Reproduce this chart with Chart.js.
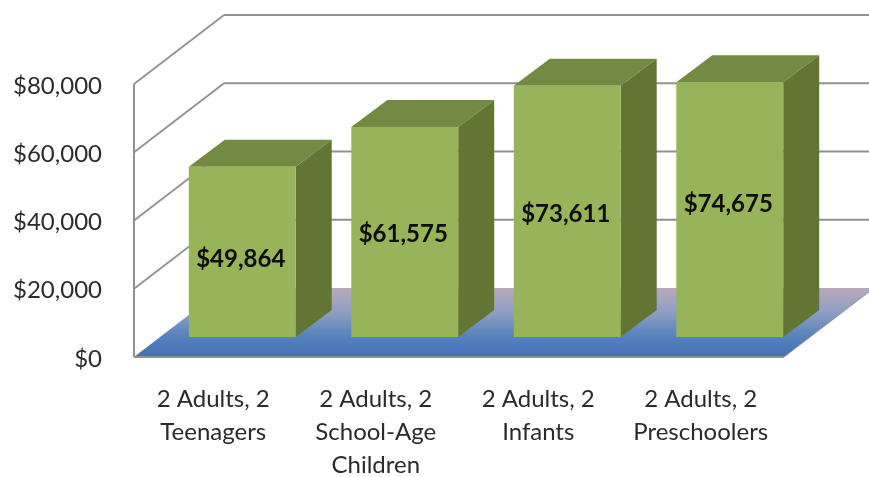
<!DOCTYPE html>
<html>
<head>
<meta charset="utf-8">
<title>Budget by family type</title>
<script src="https://cdn.jsdelivr.net/npm/chart.js@4"></script>
<style>
    html, body { margin: 0; padding: 0; background: #fff; }
    #wrap { position: relative; width: 869px; height: 477px; }
</style>
</head>
<body>
<div id="wrap"><canvas id="budgetChart"></canvas></div>
<script>
const categories = [
    ['2 Adults, 2', 'Teenagers'],
    ['2 Adults, 2', 'School-Age', 'Children'],
    ['2 Adults, 2', 'Infants'],
    ['2 Adults, 2', 'Preschoolers']
];
const budgets = [49864, 61575, 73611, 74675];
const tickValues = [0, 20000, 40000, 60000, 80000];

const FONT = 'Lato, Carlito, sans-serif';
const TEXT_COLOR = '#2b2b2b';
const GRID_COLOR = '#8f9193';

// depth of the box the chart sits in, and where the bars stand inside it
const WALL = { dx: 90, dy: 69 };
const BAR_FRONT = { dx: 27, dy: 20 };
const BAR_DEPTH = { dx: 36, dy: 27 };
// the labels in the original do not sit exactly mid-bar
const labelNudge = [7, 2, 3, -5];

function poly(ctx, pts, fill) {
    ctx.beginPath();
    pts.forEach((p, i) => i ? ctx.lineTo(p[0], p[1]) : ctx.moveTo(p[0], p[1]));
    ctx.closePath();
    ctx.fillStyle = fill;
    ctx.fill();
}

function line(ctx, x1, y1, x2, y2, width) {
    ctx.beginPath();
    ctx.moveTo(x1, y1);
    ctx.lineTo(x2, y2);
    ctx.lineWidth = width;
    ctx.strokeStyle = GRID_COLOR;
    ctx.stroke();
}

const boxPlugin = {
    id: 'box3d',
    // back wall, side wall and floor
    beforeDatasetsDraw(chart) {
        const { ctx, chartArea: a, scales: { y } } = chart;
        const y0 = y.getPixelForValue(0);
        ctx.save();

        const floor = ctx.createLinearGradient(0, y0 - WALL.dy, 0, y0);
        floor.addColorStop(0, '#b8aaba');
        floor.addColorStop(0.35, '#8f9fc4');
        floor.addColorStop(0.72, '#5480bb');
        floor.addColorStop(1, '#4570b6');
        poly(ctx, [[a.left, y0], [a.right, y0], [a.right + WALL.dx, y0 - WALL.dy], [a.left + WALL.dx, y0 - WALL.dy]], floor);

        tickValues.forEach(v => {
            const py = y.getPixelForValue(v);
            if (v > 0) {
                line(ctx, a.left, py, a.left + WALL.dx, py - WALL.dy, 1.8);
                line(ctx, a.left + WALL.dx, py - WALL.dy, chart.width, py - WALL.dy, 2);
            }
        });
        line(ctx, a.left, a.top, a.left, y0, 2);
        line(ctx, a.left, y0, a.right, y0, 2);
        line(ctx, a.right, y0, a.right + WALL.dx, y0 - WALL.dy, 1);
        ctx.restore();
    },
    // top and side faces, then move the front faces back into the box
    beforeDatasetDraw(chart, args) {
        const { ctx } = chart;
        ctx.save();
        ctx.translate(BAR_FRONT.dx, -BAR_FRONT.dy);
        chart.getDatasetMeta(args.index).data.forEach(bar => {
            const l = bar.x - bar.width / 2;
            const r = bar.x + bar.width / 2;
            const d = BAR_DEPTH;
            poly(ctx, [[l, bar.y], [r, bar.y], [r + d.dx, bar.y - d.dy], [l + d.dx, bar.y - d.dy]], '#728a42');
            poly(ctx, [[r, bar.y], [r + d.dx, bar.y - d.dy], [r + d.dx, bar.base - d.dy], [r, bar.base]], '#627533');
        });
    },
    afterDatasetDraw(chart) {
        chart.ctx.restore();
    },
    afterDatasetsDraw(chart) {
        const { ctx } = chart;
        ctx.save();
        ctx.font = 'bold 24px ' + FONT;
        ctx.fillStyle = '#0d0d0d';
        ctx.textAlign = 'center';
        ctx.textBaseline = 'middle';
        chart.getDatasetMeta(0).data.forEach((bar, i) => {
            const x = bar.x + BAR_FRONT.dx - 1.5;
            const y = (bar.y + bar.base) / 2 - BAR_FRONT.dy + labelNudge[i];
            ctx.fillText('$' + budgets[i].toLocaleString('en-US'), x, y);
        });
        ctx.restore();
    }
};

new Chart(document.getElementById('budgetChart').getContext('2d'), {
    type: 'bar',
    data: {
        labels: categories,
        datasets: [{
            label: 'Budget',
            data: budgets,
            backgroundColor: '#97b558',
            borderWidth: 0,
            barPercentage: 0.658,
            categoryPercentage: 1
        }]
    },
    plugins: [boxPlugin],
    options: {
        responsive: true,
        maintainAspectRatio: false,
        animation: false,
        layout: { padding: { top: 84, right: 85, left: 0, bottom: 0 } },
        plugins: {
            legend: { display: false },
            tooltip: { enabled: false }
        },
        scales: {
            x: {
                grid: { display: false },
                border: { display: false },
                afterFit: scale => { scale.height = 120; },
                ticks: {
                    autoSkip: false,
                    maxRotation: 0,
                    padding: 18,
                    labelOffset: -2,
                    color: TEXT_COLOR,
                    font: { family: FONT, size: 24, lineHeight: 1.37 }
                }
            },
            y: {
                min: 0,
                max: 80000,
                grid: { display: false },
                border: { display: false },
                afterFit: scale => { scale.width = 134; },
                afterBuildTicks: scale => { scale.ticks = tickValues.map(v => ({ value: v })); },
                ticks: {
                    padding: 24,
                    labelOffset: 2,
                    color: TEXT_COLOR,
                    font: { family: FONT, size: 24 },
                    callback: v => '$' + v.toLocaleString('en-US')
                }
            }
        }
    }
});
</script>
</body>
</html>
